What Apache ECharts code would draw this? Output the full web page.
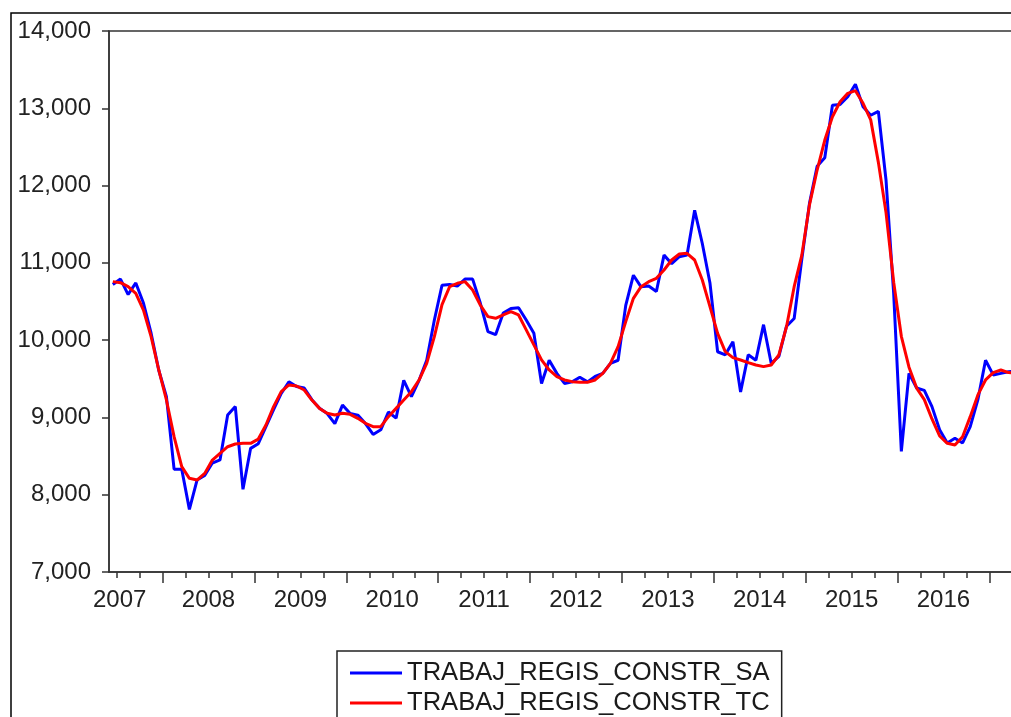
<!DOCTYPE html>
<html>
<head>
<meta charset="utf-8">
<script src="https://cdn.jsdelivr.net/npm/echarts@6/dist/echarts.min.js"></script>
<style>
  html, body { margin: 0; padding: 0; background: #fff; }
  #chart { width: 1011px; height: 717px; }
</style>
</head>
<body>
<div id="chart"></div>
<script>
// monthly data, first observation 2007M06 (month index 5, Jan 2007 = 0)
const firstMonth = 5;

const seriesNames = ['TRABAJ_REGIS_CONSTR_SA', 'TRABAJ_REGIS_CONSTR_TC'];

const saValues = [
  10720, 10790, 10590, 10740, 10480, 10090, 9610,                                 // 2007 Jun-Dec
  9270, 8330, 8330, 7810, 8190, 8250, 8410, 8450, 9030, 9140, 8070, 8600,          // 2008
  8660, 8880, 9100, 9310, 9460, 9400, 9380, 9230, 9120, 9050, 8920, 9160,          // 2009
  9050, 9030, 8920, 8780, 8840, 9070, 8990, 9480, 9270, 9480, 9740, 10260,         // 2010
  10710, 10720, 10700, 10790, 10790, 10480, 10110, 10070, 10350, 10410, 10420, 10260, // 2011
  10090, 9440, 9740, 9570, 9440, 9460, 9520, 9460, 9530, 9570, 9700, 9740,        // 2012
  10450, 10840, 10690, 10700, 10630, 11100, 10990, 11080, 11100, 11680, 11250, 10740, // 2013
  9850, 9810, 9980, 9330, 9810, 9740, 10200, 9700, 9790, 10180, 10280, 11050,      // 2014
  11770, 12250, 12360, 13040, 13050, 13150, 13310, 13020, 12910, 12960, 12070, 10600, // 2015
  8560, 9570, 9380, 9350, 9140, 8840, 8670, 8730, 8670, 8880, 9230, 9740,          // 2016
  9550, 9570, 9590, 9600                                                           // 2017
];

const tcValues = [
  10757, 10744, 10692, 10606, 10390, 10045, 9614,
  9226, 8751, 8363, 8212, 8190, 8276, 8449, 8535, 8621, 8656, 8665, 8665,
  8720, 8902, 9139, 9333, 9420, 9407, 9355, 9225, 9117, 9053, 9031, 9053,
  9040, 8988, 8924, 8881, 8881, 9010, 9117, 9225, 9333, 9484, 9700, 10045,
  10460, 10692, 10736, 10757, 10649, 10455, 10304, 10283, 10326, 10369, 10326, 10132,
  9938, 9744, 9614, 9528, 9485, 9463, 9455, 9455, 9485, 9571, 9700, 9916,
  10240, 10541, 10692, 10757, 10800, 10908, 11037, 11115, 11123, 11037, 10778, 10433,
  10088, 9851, 9773, 9743, 9709, 9678, 9657, 9678, 9808, 10174, 10692, 11100,
  11750, 12201, 12589, 12891, 13085, 13193, 13228, 13064, 12850, 12300, 11650, 10750,
  10050, 9650, 9380, 9230, 8980, 8760, 8665, 8644, 8751, 9010, 9291, 9485,
  9580, 9614, 9580, 9570
];

const yearLabels = ['2007', '2008', '2009', '2010', '2011', '2012', '2013', '2014', '2015', '2016'];
const yearLabelPos = [6.4, 18, 30, 42, 54, 66, 78, 90, 102, 114];
const yearTicks = [12, 24, 36, 48, 60, 72, 84, 96, 108, 120];

const quarterTicks = [];
for (let m = 6; m < 124; m += 3) {
  if (m % 12 !== 0) quarterTicks.push(m);
}

const toPoints = (vals) => vals.map((v, i) => [firstMonth + i + 0.5, v]);

const font = 'Liberation Sans, Arial, sans-serif';
const axisColor = '#333';

const chart = echarts.init(document.getElementById('chart'));

const option = {
  animation: false,
  backgroundColor: '#fff',
  grid: {
    left: 109,
    width: 911,   // plot runs past the right edge of the picture
    top: 31,
    bottom: 145,
    outerBoundsMode: 'none',
    containLabel: false,
    show: true,
    borderColor: axisColor,
    borderWidth: 1.5
  },
  xAxis: [
    {
      type: 'value',
      min: 5,
      max: 124,
      axisLine: { show: true, lineStyle: { color: axisColor, width: 1.5 } },
      axisTick: {
        show: true,
        inside: false,
        length: 11,
        customValues: yearTicks,
        lineStyle: { color: axisColor, width: 1.5 }
      },
      axisLabel: {
        customValues: yearLabelPos,
        formatter: (v) => yearLabels[yearLabelPos.indexOf(v)],
        margin: 16,
        fontSize: 24,
        color: '#222',
        fontFamily: font
      },
      splitLine: { show: false }
    },
    {
      type: 'value',
      min: 5,
      max: 124,
      position: 'bottom',
      axisLine: { show: false },
      axisTick: {
        show: true,
        length: 6,
        customValues: quarterTicks,
        lineStyle: { color: axisColor, width: 1.5 }
      },
      axisLabel: { show: false },
      splitLine: { show: false }
    }
  ],
  yAxis: {
    type: 'value',
    min: 7000,
    max: 14000,
    interval: 1000,
    axisLine: { show: true, lineStyle: { color: axisColor, width: 1.5 } },
    axisTick: { show: true, length: 7, lineStyle: { color: axisColor, width: 1.5 } },
    axisLabel: {
      formatter: (v) => v.toLocaleString('en-US'),
      margin: 18,
      fontSize: 24,
      color: '#222',
      fontFamily: font
    },
    splitLine: { show: false }
  },
  legend: {
    orient: 'vertical',
    left: 337,
    top: 651,
    height: 90,
    padding: [9, 12, 9, 13],
    borderColor: '#222',
    borderWidth: 1.5,
    itemWidth: 52,
    itemHeight: 3,
    itemGap: 4,
    icon: 'rect',
    data: seriesNames,
    textStyle: {
      fontSize: 25.6,
      lineHeight: 26,
      color: '#1a1a1a',
      fontFamily: font
    }
  },
  graphic: [
    {
      type: 'rect',
      silent: true,
      shape: { x: 11, y: 13, width: 1200, height: 900 },
      style: { fill: 'none', stroke: '#000', lineWidth: 1.5 }
    }
  ],
  series: [
    {
      name: seriesNames[0],
      type: 'line',
      data: toPoints(saValues),
      symbol: 'none',
      color: '#0000ff',
      lineStyle: { color: '#0000ff', width: 3 }
    },
    {
      name: seriesNames[1],
      type: 'line',
      data: toPoints(tcValues),
      symbol: 'none',
      color: '#ff0000',
      lineStyle: { color: '#ff0000', width: 3 }
    }
  ]
};

chart.setOption(option);
</script>
</body>
</html>
